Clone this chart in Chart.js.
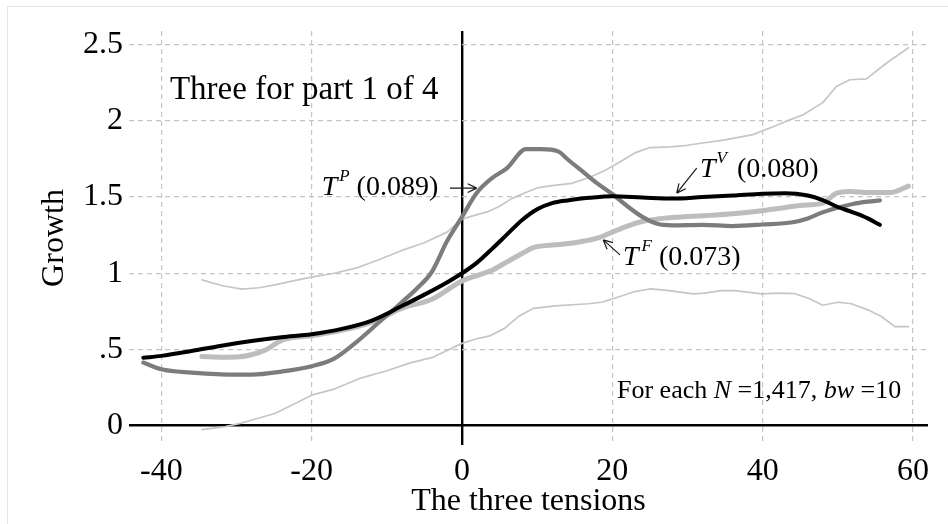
<!DOCTYPE html>
<html lang="en">
<head>
<meta charset="UTF-8">
<title>Three for part 1 of 4</title>
<script src="https://cdn.jsdelivr.net/npm/chart.js@4"></script>
<style>
  body { margin: 0; background: #fff; }
  #wrap { position: relative; width: 948px; height: 524px; overflow: hidden; }
  #frame { position: absolute; left: 7px; top: 6px; width: 960px; height: 540px; border: 1px solid #e2eaea; box-sizing: border-box; }
  canvas { position: absolute; left: 0; top: 0; }
</style>
</head>
<body>
<div id="wrap">
  <div id="frame"></div>
  <canvas id="chart" width="948" height="524"></canvas>
</div>
<script>
// axis ticks
const xTicks = [-40, -20, 0, 20, 40, 60];
const xTickLabels = ['-40', '-20', '0', '20', '40', '60'];
const yTicks = [0, 0.5, 1, 1.5, 2, 2.5];
const yTickLabels = ['0', '.5', '1', '1.5', '2', '2.5'];

// T^V, black
const tvX = [-42.4, -40, -36, -32, -28, -24, -20, -16, -12, -8, -5, -2, 0, 2, 4, 6, 8, 10, 12, 14, 17, 20, 24, 28, 32, 36, 40, 43, 46, 48, 50, 52, 54, 55.6];
const tvY = [0.445, 0.458, 0.49, 0.525, 0.555, 0.58, 0.60, 0.635, 0.69, 0.785, 0.86, 0.94, 1.00, 1.07, 1.16, 1.255, 1.35, 1.42, 1.46, 1.478, 1.495, 1.505, 1.497, 1.49, 1.50, 1.51, 1.522, 1.525, 1.51, 1.48, 1.435, 1.40, 1.36, 1.318];

// T^P, dark grey
const tpX = [-42.4, -40, -36, -32, -28, -24, -20, -17, -14, -11, -8, -6, -4, -2, 0, 2, 4, 6, 8.5, 10.5, 12.8, 14, 16, 18, 20, 22, 24, 26, 28, 32, 36, 40, 44, 46, 48, 50, 52, 54, 55.6];
const tpY = [0.414, 0.37, 0.348, 0.337, 0.335, 0.355, 0.39, 0.44, 0.55, 0.68, 0.81, 0.90, 1.01, 1.21, 1.37, 1.53, 1.625, 1.69, 1.815, 1.815, 1.80, 1.75, 1.67, 1.59, 1.52, 1.44, 1.37, 1.325, 1.315, 1.318, 1.31, 1.32, 1.335, 1.36, 1.40, 1.43, 1.455, 1.47, 1.478];

// T^F, light grey
const tfX = [-34.6, -32, -30, -28, -26, -24, -20, -16, -12, -8, -4, 0, 2, 4, 6, 8, 9.5, 12, 15, 18, 20, 22, 24, 27, 30, 33, 36, 39, 42, 45, 48, 49.8, 51.6, 54, 57, 59.4];
const tfY = [0.453, 0.449, 0.45, 0.465, 0.50, 0.56, 0.59, 0.625, 0.68, 0.77, 0.83, 0.95, 0.985, 1.02, 1.075, 1.13, 1.168, 1.185, 1.20, 1.23, 1.27, 1.31, 1.34, 1.362, 1.372, 1.38, 1.39, 1.405, 1.425, 1.445, 1.46, 1.525, 1.537, 1.53, 1.53, 1.572];

// confidence band, upper
const upX = [-34.6, -32, -29.3, -27, -24.9, -22, -20, -17, -14, -11, -8, -5, -2, 0, 2, 3.5, 5, 6.6, 8.5, 10, 12, 14.6, 17, 19, 21, 23, 25, 27.7, 30, 32, 35, 38.7, 41.8, 43, 45.4, 48, 49.8, 51.6, 53.8, 56.5, 59.4];
const upY = [0.957, 0.92, 0.896, 0.905, 0.924, 0.955, 0.975, 1.0, 1.035, 1.09, 1.15, 1.20, 1.27, 1.355, 1.385, 1.405, 1.44, 1.49, 1.53, 1.56, 1.575, 1.59, 1.63, 1.675, 1.73, 1.79, 1.825, 1.83, 1.84, 1.855, 1.875, 1.91, 1.97, 1.995, 2.04, 2.12, 2.226, 2.27, 2.276, 2.38, 2.48];

// confidence band, lower
const loX = [-34.6, -31.5, -29.5, -27, -24.9, -22, -20, -17, -13.6, -10, -7, -3.8, 0, 1.7, 3.7, 5.7, 7.5, 9.5, 12.4, 16.8, 18.6, 20.3, 23, 25, 27, 30.8, 32.3, 34.5, 36.3, 39.9, 42.1, 44.3, 46.1, 48, 50, 51.8, 54, 55.8, 57.6, 59.4];
const loY = [-0.026, -0.006, 0.015, 0.05, 0.08, 0.15, 0.20, 0.24, 0.31, 0.36, 0.41, 0.45, 0.54, 0.567, 0.589, 0.64, 0.716, 0.77, 0.786, 0.80, 0.81, 0.836, 0.88, 0.897, 0.89, 0.865, 0.87, 0.886, 0.886, 0.865, 0.87, 0.866, 0.836, 0.79, 0.81, 0.80, 0.76, 0.716, 0.65, 0.65];

const SERIF = '"Liberation Serif", "Times New Roman", serif';

function pts(xs, ys) {
  return xs.map((x, i) => ({ x: x, y: ys[i] }));
}

// text notes in data units (baseline-left)
const notes = [
  { x: -38.85, y: 2.145, size: 33, runs: [{ t: 'Three for part 1 of 4' }] },
  { x: -18.67, y: 1.515, size: 28, runs: [{ t: 'T', it: true, kern: 2 }, { t: 'P', it: true, sup: true }, { t: ' (0.089)' }] },
  { x: 31.67, y: 1.635, size: 28, runs: [{ t: 'T', it: true, kern: 1 }, { t: 'V', it: true, sup: true, kern: 3 }, { t: ' (0.080)' }] },
  { x: 21.42, y: 1.055, size: 28, runs: [{ t: 'T', it: true, kern: 3 }, { t: 'F', it: true, sup: true }, { t: ' (0.073)' }] },
  { x: 20.62, y: 0.18, size: 26, runs: [{ t: 'For each ' }, { t: 'N', it: true }, { t: ' =1,417, ' }, { t: 'bw', it: true }, { t: ' =10' }] }
];
// arrows: from -> to (tip)
const arrows = [
  { x0: -1.6, y0: 1.559, x1: 1.96, y1: 1.559 },
  { x0: 31.23, y0: 1.69, x1: 28.57, y1: 1.526 },
  { x0: 21.02, y0: 1.121, x1: 18.8, y1: 1.219 }
];

const notesPlugin = {
  id: 'notes',
  afterDatasetsDraw(chart) {
    const ctx = chart.ctx;
    const sx = chart.scales.x, sy = chart.scales.y;
    ctx.save();
    ctx.fillStyle = '#000';
    ctx.textBaseline = 'alphabetic';
    ctx.textAlign = 'left';
    notes.forEach(n => {
      let cx = sx.getPixelForValue(n.x);
      const by = sy.getPixelForValue(n.y);
      n.runs.forEach(r => {
        const fs = r.sup ? 17 : n.size;
        ctx.font = (r.it ? 'italic ' : '') + fs + 'px ' + SERIF;
        ctx.fillText(r.t, cx, r.sup ? by - 14 : by);
        cx += ctx.measureText(r.t).width + (r.kern || 0);
      });
    });
    ctx.strokeStyle = '#1a1a1a';
    ctx.lineWidth = 1.2;
    arrows.forEach(a => {
      const x0 = sx.getPixelForValue(a.x0), y0 = sy.getPixelForValue(a.y0);
      const x1 = sx.getPixelForValue(a.x1), y1 = sy.getPixelForValue(a.y1);
      const ang = Math.atan2(y1 - y0, x1 - x0);
      ctx.beginPath();
      ctx.moveTo(x0, y0);
      ctx.lineTo(x1, y1);
      [-0.45, 0.45].forEach(d => {
        ctx.moveTo(x1, y1);
        ctx.lineTo(x1 - 10 * Math.cos(ang + d), y1 - 10 * Math.sin(ang + d));
      });
      ctx.stroke();
    });
    ctx.restore();
  }
};

const lineBase = { pointRadius: 0, fill: false, borderCapStyle: 'round', borderJoinStyle: 'round' };

new Chart(document.getElementById('chart'), {
  type: 'line',
  data: {
    datasets: [
      Object.assign({ label: 'T^V', data: pts(tvX, tvY), borderColor: '#000', borderWidth: 4, cubicInterpolationMode: 'monotone' }, lineBase),
      Object.assign({ label: 'T^P', data: pts(tpX, tpY), borderColor: '#7c7c7c', borderWidth: 4.2, cubicInterpolationMode: 'monotone' }, lineBase),
      Object.assign({ label: 'T^F', data: pts(tfX, tfY), borderColor: '#bdbdbd', borderWidth: 5, cubicInterpolationMode: 'monotone' }, lineBase),
      Object.assign({ label: 'upper', data: pts(upX, upY), borderColor: '#c6c6c6', borderWidth: 1.7, tension: 0 }, lineBase),
      Object.assign({ label: 'lower', data: pts(loX, loY), borderColor: '#c6c6c6', borderWidth: 1.7, tension: 0 }, lineBase)
    ]
  },
  options: {
    responsive: false,
    animation: false,
    layout: { padding: { left: 0, right: 20, top: 31, bottom: 0 } },
    plugins: { legend: { display: false }, tooltip: { enabled: false } },
    scales: {
      x: {
        type: 'linear',
        min: -44.3,
        max: 62,
        afterBuildTicks(scale) { scale.ticks = xTicks.map(v => ({ value: v })); },
        afterFit(scale) { scale.height = 79; },
        ticks: {
          padding: 7,
          color: '#000',
          font: { family: SERIF, size: 32 },
          maxRotation: 0,
          callback: v => xTickLabels[xTicks.indexOf(v)]
        },
        grid: {
          drawTicks: false,
          color: c => (c.tick && c.tick.value === 0) ? '#000' : '#c4c4c4',
          lineWidth: c => (c.tick && c.tick.value === 0) ? 2.4 : 1.2
        },
        border: { display: false, dash: c => (c.tick && c.tick.value === 0) ? [] : [5, 4] },
        title: {
          display: true,
          text: 'The three tensions',
          color: '#000',
          font: { family: SERIF, size: 32 },
          padding: { top: 0, bottom: 3 }
        }
      },
      y: {
        type: 'linear',
        min: -0.127,
        max: 2.59,
        afterBuildTicks(scale) { scale.ticks = yTicks.map(v => ({ value: v })); },
        afterFit(scale) { scale.width = 129; },
        ticks: {
          padding: 6,
          color: '#000',
          font: { family: SERIF, size: 32 },
          callback: v => yTickLabels[yTicks.indexOf(v)]
        },
        grid: {
          drawTicks: false,
          color: c => (c.tick && c.tick.value === 0) ? '#000' : '#c4c4c4',
          lineWidth: c => (c.tick && c.tick.value === 0) ? 2.4 : 1.2
        },
        border: { display: false, dash: c => (c.tick && c.tick.value === 0) ? [] : [5, 4] },
        title: {
          display: true,
          text: 'Growth',
          color: '#000',
          font: { family: SERIF, size: 32 },
          padding: { top: 35, bottom: 0 }
        }
      }
    }
  },
  plugins: [notesPlugin]
});
</script>
</body>
</html>
